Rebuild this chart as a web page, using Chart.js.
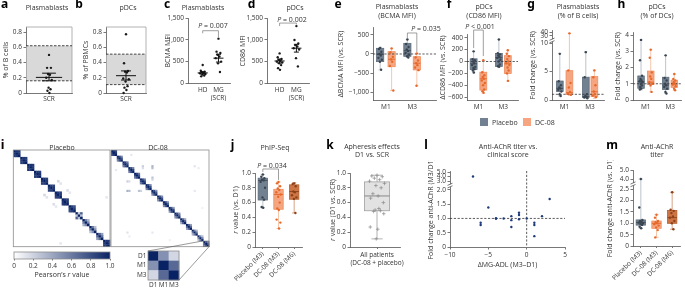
<!DOCTYPE html>
<html>
<head>
<meta charset="utf-8">
<title>DC-08 immune readouts</title>
<script src="https://cdn.jsdelivr.net/npm/chart.js@4.4.1/dist/chart.umd.min.js"></script>
<style>
  body { margin: 0; width: 685px; height: 288px; position: relative; overflow: hidden; background: #fff; font-family: 'Open Sans', sans-serif; color: #333; }
  canvas { position: absolute; }
  .tx { position: absolute; transform: translate(-50%, -50%); white-space: nowrap; font-size: 7px; line-height: 1; }
  .vt { position: absolute; transform: translate(-50%, -50%) rotate(-90deg); white-space: nowrap; font-size: 7px; line-height: 1; }
  .lt { position: absolute; transform: translate(-50%, -50%); font-family: 'Noto Sans', sans-serif; font-weight: 700; font-size: 12px; color: #000; line-height: 1; }
  .sw { position: absolute; width: 8px; height: 8px; }
  .lg { position: absolute; font-size: 7px; line-height: 1; transform: translateY(-50%); }
</style>
</head>
<body>
<script>
Chart.defaults.font.family = "'Open Sans', sans-serif";
Chart.defaults.font.size = 6.5;
Chart.defaults.color = '#333';

// ---------- data ----------
const visits = ['M1', 'M3'];
const groupsJM = ['Placebo (M3)', 'DC-08 (M3)', 'DC-08 (M6)'];

// a, b: frequency at screening, grey band = healthy donor range
const abTicks = [0, 0.2, 0.4, 0.6, 0.8];
const aSCR = [0.5, 0.33, 0.33, 0.25, 0.24, 0.2, 0.17, 0.07, 0.05, 0.03, 0.0];
const aMeanSem = [0.205, 0.16, 0.26];
const aRange = [0.16, 0.62];
const bSCR = [0.77, 0.39, 0.29, 0.28, 0.27, 0.19, 0.18, 0.15, 0.09, 0.07, 0.04, 0.0];
const bMeanSem = [0.227, 0.17, 0.29];
const bRange = [0.11, 0.51];

// c, d: MFI, healthy donors vs MG at screening
const cdTicks = [0, 500, 1000, 1500];
const cHD = [423, 290, 270, 260, 240, 230, 215, 200, 180, 160];
const cMG = [1030, 730, 700, 660, 620, 580, 500, 460, 260];
const cHDMeanSem = [240, 215, 265];
const cMGMeanSem = [580, 490, 670];
const dHD = [690, 600, 560, 540, 520, 500, 480, 460, 420, 350, 310];
const dMG = [1320, 1000, 920, 880, 850, 810, 780, 580, 390];
const dHDMeanSem = [515, 470, 560];
const dMGMeanSem = [810, 720, 900];

// box stats: [low whisker, q1, median, q3, high whisker]
const eTicks = [-1000, -500, 0, 500];
const ePlacM1 = [-413, -198, -10, 147, 173];
const eDC08M1 = [-950, -330, -137, 60, 147];
const ePlacM3 = [-90, -60, 86, 276, 380];
const eDC08M3 = [-827, -413, -240, -70, 17];
const ePlacM1Pts = [160, 130, 60, 0, -40, -100, -150, -200, -410];
const eDC08M1Pts = [145, 40, -80, -140, -200, -310, -950];
const ePlacM3Pts = [378, 260, 180, 120, 80, 30, -20, -60, -90];
const eDC08M3Pts = [15, -90, -170, -240, -290, -350, -420, -825];

const fTicks = [-600, -400, -200, 0, 200, 400];
const fPlacM1 = [-190, -136, -38, 45, 170];
const fDC08M1 = [-530, -480, -290, -180, 20];
const fPlacM3 = [-93, -82, 65, 136, 372];
const fDC08M3 = [-330, -200, -38, 98, 190];
const fPlacM1Pts = [170, 40, 20, 0, -30, -60, -90, -110, -130, -150, -185];
const fDC08M1Pts = [20, -180, -230, -260, -290, -320, -360, -400, -470, -500, -525];
const fPlacM3Pts = [370, 140, 120, 100, 80, 60, 30, 0, -50, -80, -90];
const fDC08M3Pts = [190, 130, 90, 40, 0, -30, -60, -100, -150, -200, -325];

const gTicks = [0, 5, 10, 30, 40];
const gPlacM1 = [0.7, 1.5, 2.05, 3.33, 8.2];
const gDC08M1 = [0.8, 1.0, 1.3, 5.15, 37];
const gPlacM3 = [0.3, 0.45, 0.6, 4.0, 8.5];
const gDC08M3 = [0.3, 0.6, 1.45, 4.1, 5.25];
const gPlacM1Pts = [8.1, 3.3, 2.6, 2.2, 2.0, 1.8, 1.5, 1.0, 0.7];
const gDC08M1Pts = [37, 5.2, 3.0, 2.2, 1.4, 1.1, 0.9];
const gPlacM3Pts = [8.4, 4.0, 1.0, 0.7, 0.55, 0.45, 0.3];
const gDC08M3Pts = [5.2, 4.0, 2.6, 1.5, 1.0, 0.8, 0.5];

const hTicks = [0, 1, 2, 3, 4];
const hPlacM1 = [0.62, 0.72, 1.13, 1.48, 3.7];
const hDC08M1 = [0.5, 0.95, 1.1, 1.78, 3.1];
const hPlacM3 = [0.4, 0.65, 0.92, 1.4, 2.75];
const hDC08M3 = [0.6, 0.78, 1.0, 1.22, 1.6];
const hPlacM1Pts = [3.7, 2.45, 1.5, 1.3, 1.2, 1.15, 1.1, 1.0, 0.9, 0.8, 0.7, 0.65];
const hDC08M1Pts = [3.1, 2.6, 1.7, 1.45, 1.3, 1.1, 1.0, 0.9, 0.5];
const hPlacM3Pts = [2.75, 1.35, 1.2, 1.0, 0.9, 0.8, 0.7, 0.5, 0.4];
const hDC08M3Pts = [1.6, 1.3, 1.2, 1.1, 1.0, 0.95, 0.85, 0.7, 0.6];

// i: within-patient Pearson r between D1, M1, M3 + sparse cross-patient cells [row, col, r]
const plD1M1 = [0.92, 0.9, 0.93, 0.9, 0.92, 0.88, 0.9, 0.9, 0.86, 0.25, 0.6, 0.62, 0.7, 0.9];
const plM1M3 = [0.9, 0.92, 0.9, 0.93, 0.9, 0.9, 0.88, 0.92, 0.88, 0.3, 0.55, 0.5, 0.65, 0.92];
const plD1M3 = [0.88, 0.87, 0.9, 0.88, 0.86, 0.85, 0.86, 0.88, 0.8, 0.72, 0.35, 0.3, 0.45, 0.88];
const plOff = [[13, 19, 0.18], [14, 20, 0.12], [17, 23, 0.15], [18, 24, 0.1], [20, 40, 0.1]];
const dcD1M1 = [0.9, 0.82, 0.85, 0.8, 0.85, 0.82, 0.86, 0.8, 0.78, 0.82, 0.75, 0.8, 0.7, 0.72, 0.6, 0.55, 0.75];
const dcM1M3 = [0.88, 0.8, 0.82, 0.84, 0.8, 0.85, 0.8, 0.78, 0.8, 0.76, 0.8, 0.72, 0.75, 0.68, 0.62, 0.6, 0.8];
const dcD1M3 = [0.8, 0.55, 0.6, 0.58, 0.62, 0.6, 0.55, 0.5, 0.52, 0.5, 0.45, 0.5, 0.4, 0.42, 0.35, 0.3, 0.55];
const dcOff = [[2, 10, 0.1], [8, 16, 0.22], [9, 16, 0.15], [8, 21, 0.35], [9, 21, 0.3], [14, 21, 0.28], [15, 21, 0.2], [8, 43, 0.12], [9, 45, 0.08], [21, 43, 0.1], [30, 47, 0.06]];
const insetLabels = ['D1', 'M1', 'M3'];
const insetR = [0.5, 0.68, 0.18]; // D1-M1, M1-M3, D1-M3
const cbTicks = [0, 0.2, 0.4, 0.6, 0.8, 1.0];

// j, k
const jTicks = [0, 0.2, 0.4, 0.6, 0.8, 1.0];
const jPlac = [0.53, 0.635, 0.9, 0.93, 0.98];
const jDC08M3 = [0.25, 0.51, 0.71, 0.78, 0.88];
const jDC08M6 = [0.46, 0.645, 0.75, 0.84, 0.87];
const jPlacPts = [0.98, 0.95, 0.93, 0.91, 0.9, 0.88, 0.8, 0.67, 0.64, 0.54, 0.53];
const jDC08M3Pts = [0.88, 0.86, 0.82, 0.79, 0.77, 0.74, 0.71, 0.68, 0.6, 0.52, 0.5, 0.37, 0.33, 0.25];
const jDC08M6Pts = [0.86, 0.85, 0.82, 0.75, 0.74, 0.7, 0.67, 0.65, 0.46];
const kAll = [0.11, 0.49, 0.69, 0.88, 0.97];
const kPts = [0.97, 0.96, 0.95, 0.93, 0.91, 0.89, 0.86, 0.83, 0.8, 0.72, 0.69, 0.66, 0.6, 0.52, 0.5, 0.49, 0.48, 0.45, 0.27, 0.24, 0.11];

// l: change in MG-ADL vs fold change titer
const lXTicks = [-10, -5, 0, 5];
const lYTicks = [0, 0.5, 1, 1.5, 2, 3, 4, 5];
const lADL = [-7, -5, 3, -6, -6, -4, -4, -3, -2, -2, -2, -1, -1, -1, 0, 1, 1, 1, 2];
const lFold = [4.0, 1.38, 1.68, 0.85, 0.77, 1.01, 0.99, 1.0, 1.08, 0.94, 0.7, 1.2, 1.12, 0.97, 1.0, 0.85, 0.77, 0.38, 1.08];

// m
const mTicks = [0, 0.5, 1, 1.5, 2, 2.5, 4, 5];
const mPlac = [0.78, 0.92, 1.04, 1.15, 4.0];
const mDC08M3 = [0.38, 0.78, 1.0, 1.1, 1.38];
const mDC08M6 = [0.74, 1.0, 1.25, 1.57, 2.37];
const mPlacPts = [4.0, 1.7, 1.15, 1.1, 1.06, 1.03, 1.0, 0.97, 0.93, 0.85, 0.78];
const mDC08M3Pts = [1.38, 1.25, 1.1, 1.05, 1.0, 0.96, 0.9, 0.82, 0.7, 0.38];
const mDC08M6Pts = [2.37, 1.6, 1.55, 1.45, 1.3, 1.25, 1.1, 1.0, 0.74];

// broken axes: values above the break are squeezed
const gT = v => v <= 10 ? v : 10 + (v - 10) * 0.063;
const lT = v => v <= 2 ? v : v <= 3 ? 2 + (v - 2) * 0.31 : 2.31 + (v - 3) * 0.155;
const mT = v => v <= 2.5 ? v : v <= 4 ? 2.5 + (v - 2.5) * 0.3 : 2.95 + (v - 4) * 0.4;

// ---------- styling ----------
const AX = '#555';
const TITLE = 7;
const PLAC = { fill: '#728191', edge: '#5d6c7c', wh: '#a9b4bf', med: '#3d4956', pt: '#3a4551' };
const DC08 = { fill: '#f5a680', edge: '#ef8d5e', wh: '#f4b796', med: '#e1672d', pt: '#e6692c' };
const DC08b = { fill: '#cd7544', edge: '#b5612f', wh: '#cf8b66', med: '#8c4119', pt: '#8c4119' };
const GREY = { fill: '#e2e2e2', edge: '#a0a0a0', wh: '#a0a0a0', med: '#7d7d7d', pt: '#8a8a8a' };
const NAVY = [9, 34, 100];

const fmtK = v => (v < 0 ? '\u2212' : '') + Math.abs(v).toLocaleString('en-US');
const fmt1 = v => v === 0 ? '0' : (v < 0 ? '\u2212' : '') + Math.abs(v).toFixed(1);
const heatRGB = v => {
  v = Math.max(0, Math.min(1, v));
  return 'rgb(' + NAVY.map(c => Math.round(255 + (c - 255) * v)).join(',') + ')';
};

function corrMatrix(d1m1, m1m3, d1m3, off) {
  const n = d1m1.length * 3;
  const M = Array.from({ length: n }, () => new Array(n).fill(0));
  for (let i = 0; i < n; i++) M[i][i] = 1;
  d1m1.forEach((v, p) => {
    const b = 3 * p;
    M[b][b + 1] = M[b + 1][b] = v;
    M[b + 1][b + 2] = M[b + 2][b + 1] = m1m3[p];
    M[b][b + 2] = M[b + 2][b] = d1m3[p];
  });
  off.forEach(([r, c, v]) => { M[r][c] = M[c][r] = v; });
  return M;
}

const JIT = [0, -0.7, 0.7, -0.35, 0.35, -1, 1, -0.15, 0.55, -0.55, 0.15, -0.85, 0.85, 0.25, -0.25, 0.45, -0.45, 0.9, -0.9, 0.1, -0.1];
function pts(cx, vals, spread, color, tf, extra) {
  return Object.assign({
    data: vals.map((v, i) => ({ x: cx + JIT[i % JIT.length] * spread, y: tf ? tf(v) : v })),
    pointRadius: 1.2, backgroundColor: color, borderColor: color, borderWidth: 0, clip: false
  }, extra || {});
}
const box = (x, w, stats, c, tf) => ({ x, w, s: tf ? stats.map(tf) : stats, c });

// ---------- drawing helpers (decorations drawn through the chart scales) ----------
const DECO = {};
Chart.register({
  id: 'deco',
  beforeDatasetsDraw(ch) {
    const d = DECO[ch.canvas.id]; if (!d) return;
    const { ctx, chartArea: A } = ch;
    const X = v => ch.scales.x.getPixelForValue(v), Y = v => ch.scales.y.getPixelForValue(v);
    ctx.save();
    if (d.band) {
      const y0 = Y(d.band[0]), y1 = Y(d.band[1]);
      ctx.fillStyle = '#d9d9d9';
      ctx.fillRect(A.left + 0.5, y1, A.right - A.left - 0.5, y0 - y1);
      ctx.strokeStyle = '#a0a0a0'; ctx.lineWidth = 0.8;
      ctx.beginPath(); ctx.moveTo(A.left, A.top); ctx.lineTo(A.right, A.top); ctx.lineTo(A.right, A.bottom); ctx.stroke();
      ctx.setLineDash([2.5, 1.5]); ctx.strokeStyle = '#333'; ctx.lineWidth = 0.9;
      [y0, y1].forEach(p => { ctx.beginPath(); ctx.moveTo(A.left, p); ctx.lineTo(A.right, p); ctx.stroke(); });
      ctx.setLineDash([]);
    }
    if (d.grad) {
      const gr = ctx.createLinearGradient(X(0), 0, X(1), 0);
      gr.addColorStop(0, heatRGB(0)); gr.addColorStop(1, heatRGB(1));
      ctx.fillStyle = gr; ctx.fillRect(X(0), A.top, X(1) - X(0), A.bottom - A.top);
    }
    if (d.heat) {
      const M = d.heat, n = M.length;
      for (let i = 0; i < n; i++) for (let j = 0; j < n; j++) {
        const v = M[i][j]; if (v <= 0) continue;
        const xa = X(j), xb = X(j + 1), ya = Y(i), yb = Y(i + 1);
        ctx.fillStyle = heatRGB(v);
        ctx.fillRect(Math.min(xa, xb), Math.min(ya, yb), Math.abs(xb - xa) + 0.3, Math.abs(yb - ya) + 0.3);
      }
    }
    (d.boxes || []).forEach(b => {
      const cx = X(b.x), hw = (X(b.x + b.w / 2) - X(b.x - b.w / 2)) / 2, cap = hw * 0.45;
      const [lo, q1, md, q3, hi] = b.s.map(Y);
      ctx.lineWidth = 0.8; ctx.strokeStyle = b.c.wh;
      ctx.beginPath();
      ctx.moveTo(cx, lo); ctx.lineTo(cx, q1); ctx.moveTo(cx, q3); ctx.lineTo(cx, hi);
      ctx.moveTo(cx - cap, lo); ctx.lineTo(cx + cap, lo); ctx.moveTo(cx - cap, hi); ctx.lineTo(cx + cap, hi);
      ctx.stroke();
      ctx.fillStyle = b.c.fill; ctx.fillRect(cx - hw, q3, 2 * hw, q1 - q3);
      ctx.strokeStyle = b.c.edge; ctx.strokeRect(cx - hw, q3, 2 * hw, q1 - q3);
      ctx.strokeStyle = b.c.med; ctx.lineWidth = 0.9;
      ctx.beginPath(); ctx.moveTo(cx - hw, md); ctx.lineTo(cx + hw, md); ctx.stroke();
    });
    (d.refs || []).forEach(r => {
      ctx.setLineDash([2.2, 1.6]); ctx.strokeStyle = '#333'; ctx.lineWidth = 0.8;
      ctx.beginPath();
      if (r.y !== undefined) { ctx.moveTo(A.left, Y(r.y)); ctx.lineTo(A.right, Y(r.y)); }
      else { ctx.moveTo(X(r.x), A.top); ctx.lineTo(X(r.x), A.bottom); }
      ctx.stroke(); ctx.setLineDash([]);
    });
    ctx.restore();
  },
  afterDatasetsDraw(ch) {
    const d = DECO[ch.canvas.id]; if (!d) return;
    const { ctx, chartArea: A } = ch;
    const X = v => ch.scales.x.getPixelForValue(v), Y = v => ch.scales.y.getPixelForValue(v);
    ctx.save();
    (d.means || []).forEach(m => {
      const cx = X(m.x), hw = X(m.x + m.hw) - cx, cw = X(m.x + m.cw) - cx;
      const [mu, lo, hi] = m.m.map(Y);
      ctx.strokeStyle = '#111'; ctx.lineWidth = 1;
      ctx.beginPath();
      ctx.moveTo(cx - hw, mu); ctx.lineTo(cx + hw, mu);
      ctx.moveTo(cx, lo); ctx.lineTo(cx, hi);
      ctx.moveTo(cx - cw, lo); ctx.lineTo(cx + cw, lo); ctx.moveTo(cx - cw, hi); ctx.lineTo(cx + cw, hi);
      ctx.stroke();
    });
    (d.brackets || []).forEach(b => {
      const x1 = X(b.x1), x2 = X(b.x2), yy = Y(b.v);
      ctx.strokeStyle = '#777'; ctx.lineWidth = 0.7;
      ctx.beginPath(); ctx.moveTo(x1, yy + b.l1); ctx.lineTo(x1, yy); ctx.lineTo(x2, yy); ctx.lineTo(x2, yy + b.l2); ctx.stroke();
    });
    (d.breaks || []).forEach(v => {
      const yy = Y(v), x0 = A.left;
      ctx.fillStyle = '#fff'; ctx.fillRect(x0 - 3, yy - 1.3, 6, 2.6);
      ctx.strokeStyle = AX; ctx.lineWidth = 0.8;
      ctx.beginPath();
      ctx.moveTo(x0 - 2.5, yy - 0.2); ctx.lineTo(x0 + 2.5, yy - 2.4);
      ctx.moveTo(x0 - 2.5, yy + 2.4); ctx.lineTo(x0 + 2.5, yy + 0.2);
      ctx.stroke();
    });
    if (d.frame) {
      ctx.strokeStyle = '#8c8c8c'; ctx.lineWidth = 0.8;
      ctx.strokeRect(A.left, A.top, A.right - A.left, A.bottom - A.top);
    }
    if (d.spot !== undefined) {
      const b = 3 * d.spot;
      ctx.strokeStyle = '#777'; ctx.lineWidth = 0.6;
      ctx.strokeRect(X(b), Y(b), X(b + 3) - X(b), Y(b + 3) - Y(b));
    }
    ctx.restore();
  }
});

// ---------- layout helpers ----------
let nCv = 0;
function geo(L, T, W, H, area, yw) {
  return { L, T, W, H, yw, pl: area[0] - L - yw, pt: area[1] - T, pr: L + W - area[2], xh: T + H - area[3] };
}
function xAx(g, s) {
  if (s.hide) return { type: 'linear', display: false, min: s.min, max: s.max };
  return {
    type: 'linear', position: 'bottom', min: s.min, max: s.max, bounds: 'data',
    afterBuildTicks: sc => { sc.ticks = s.vals.map(v => ({ value: v })); },
    ticks: { autoSkip: false, padding: s.pad ?? 2, maxRotation: s.rot || 0, minRotation: s.rot || 0, callback: (v, i) => s.labels[i] },
    grid: { display: true, drawOnChartArea: false, drawTicks: !!s.tick, tickLength: s.tick || 0, color: AX, lineWidth: 0.8 },
    border: { display: s.border !== false, color: AX, width: 0.8 },
    title: s.title ? { display: true, text: s.title, font: { size: TITLE }, padding: { top: 0, bottom: s.tpb || 0 } } : { display: false },
    afterFit: sc => { sc.height = g.xh; sc.paddingLeft = 0; sc.paddingRight = 0; }
  };
}
function yAx(g, s) {
  if (s.hide) return { type: 'linear', display: false, min: s.min, max: s.max, reverse: !!s.rev };
  return {
    type: 'linear', position: 'left', min: s.min, max: s.max, bounds: 'data', reverse: !!s.rev,
    afterBuildTicks: sc => { sc.ticks = s.vals.map(v => ({ value: v })); },
    ticks: { autoSkip: false, padding: s.pad ?? 1.5, callback: (v, i) => s.labels[i] },
    grid: { display: s.tick !== 0, drawOnChartArea: false, drawTicks: s.tick !== 0, tickLength: s.tick ?? 2.5, color: AX, lineWidth: 0.8 },
    border: { display: s.border !== false, color: AX, width: 0.8 },
    title: s.title ? { display: true, text: s.title, font: { size: TITLE }, padding: { top: Math.max(0, s.tx - g.L - g.pl - TITLE * 0.6), bottom: 0 } } : { display: false },
    afterFit: sc => { sc.width = g.yw; sc.paddingTop = 0; sc.paddingBottom = 0; }
  };
}
function mk(g, xs, ys, datasets, deco) {
  const cv = document.createElement('canvas');
  cv.id = 'cv' + (nCv++);
  cv.width = g.W; cv.height = g.H;
  cv.style.left = g.L + 'px'; cv.style.top = g.T + 'px';
  cv.style.width = g.W + 'px'; cv.style.height = g.H + 'px';
  document.body.appendChild(cv);
  DECO[cv.id] = deco || {};
  return new Chart(cv, {
    type: 'scatter',
    data: { datasets: datasets || [] },
    options: {
      responsive: false, animation: false, events: [],
      layout: { padding: { left: g.pl, top: g.pt, right: g.pr, bottom: xs.hide ? g.xh : 0 } },
      scales: { x: xAx(g, xs), y: yAx(g, ys) },
      plugins: { legend: { display: false }, tooltip: { enabled: false } }
    }
  });
}
function txt(x, y, html, cls) {
  const e = document.createElement('div');
  e.className = cls || 'tx'; e.innerHTML = html;
  e.style.left = x + 'px'; e.style.top = y + 'px';
  document.body.appendChild(e);
}

// ---------- a ----------
const gA = geo(0, 0, 76, 104, [26, 27, 73, 93], 26);
mk(gA, { min: -1, max: 1, vals: [0], labels: ['SCR'], pad: 2.2 },
  { min: 0, max: 0.866, vals: abTicks, labels: abTicks.map(fmt1), title: '% of B cells', tx: 6 },
  [pts(0, aSCR, 0.12, '#1a1a1a')],
  { band: aRange, means: [{ x: 0, m: aMeanSem, hw: 0.57, cw: 0.3 }] });

// ---------- b ----------
const gB = geo(80, 0, 70, 104, [106, 27, 148, 93], 26);
mk(gB, { min: -1, max: 1, vals: [0], labels: ['SCR'], pad: 2.2 },
  { min: 0, max: 0.866, vals: abTicks, labels: abTicks.map(fmt1), title: '% of PBMCs', tx: 86 },
  [pts(0, bSCR, 0.14, '#1a1a1a')],
  { band: bRange, means: [{ x: 0, m: bMeanSem, hw: 0.5, cw: 0.25 }] });

// ---------- c ----------
const gC = geo(162, 0, 72, 101, [188, 18.3, 230, 83.3], 26);
mk(gC, { min: 0, max: 2, vals: [0.7, 1.45], labels: ['HD', ['MG', '(SCR)']], pad: 2.8 },
  { min: 0, max: 1500, vals: cdTicks, labels: cdTicks.map(fmtK), title: 'BCMA MFI', tx: 168 },
  [pts(0.7, cHD, 0.13, '#1a1a1a'), pts(1.45, cMG, 0.13, '#1a1a1a')],
  { means: [{ x: 0.7, m: cHDMeanSem, hw: 0.24, cw: 0.12 }, { x: 1.45, m: cMGMeanSem, hw: 0.24, cw: 0.12 }],
    brackets: [{ x1: 0.7, x2: 1.45, v: 1214, l1: 2.6, l2: 6.3 }] });

// ---------- d ----------
const gD = geo(238, 0, 75, 101, [267, 18.3, 311, 83.3], 29);
mk(gD, { min: 0, max: 2, vals: [0.6, 1.4], labels: ['HD', ['MG', '(SCR)']], pad: 2.8 },
  { min: 0, max: 1500, vals: cdTicks, labels: cdTicks.map(fmtK), title: 'CD86 MFI', tx: 242.5 },
  [pts(0.6, dHD, 0.13, '#1a1a1a'), pts(1.4, dMG, 0.13, '#1a1a1a')],
  { means: [{ x: 0.6, m: dHDMeanSem, hw: 0.24, cw: 0.12 }, { x: 1.4, m: dMGMeanSem, hw: 0.24, cw: 0.12 }],
    brackets: [{ x1: 0.6, x2: 1.4, v: 1390, l1: 3, l2: 1.5 }] });

// ---------- e ----------
const gE = geo(335, 0, 105, 112, [373, 27.8, 438, 100.2], 38);
mk(gE, { min: 0, max: 2.2, vals: [0.45, 1.37], labels: visits, pad: 3 },
  { min: -1200, max: 680, vals: eTicks, labels: eTicks.map(fmtK), title: '\u0394BCMA MFI (vs. SCR)', tx: 341 },
  [pts(0.25, ePlacM1Pts, 0.06, PLAC.pt), pts(0.65, eDC08M1Pts, 0.06, DC08.pt),
   pts(1.2, ePlacM3Pts, 0.06, PLAC.pt), pts(1.53, eDC08M3Pts, 0.06, DC08.pt)],
  { boxes: [box(0.25, 0.25, ePlacM1, PLAC), box(0.65, 0.25, eDC08M1, DC08), box(1.2, 0.25, ePlacM3, PLAC), box(1.53, 0.25, eDC08M3, DC08)],
    refs: [{ y: 0 }], brackets: [{ x1: 1.2, x2: 1.53, v: 545, l1: 5, l2: 19 }] });

// ---------- f ----------
const gF = geo(438, 0, 84, 112, [467, 34.7, 520, 100.2], 29);
mk(gF, { min: 0, max: 2, vals: [0.45, 1.42], labels: visits, pad: 3 },
  { min: -650, max: 450, vals: fTicks, labels: fTicks.map(fmtK), title: '\u0394CD86 MFI (vs. SCR)', tx: 443 },
  [pts(0.26, fPlacM1Pts, 0.06, PLAC.pt), pts(0.64, fDC08M1Pts, 0.06, DC08.pt),
   pts(1.25, fPlacM3Pts, 0.06, PLAC.pt), pts(1.6, fDC08M3Pts, 0.06, DC08.pt)],
  { boxes: [box(0.26, 0.27, fPlacM1, PLAC), box(0.64, 0.27, fDC08M1, DC08), box(1.25, 0.27, fPlacM3, PLAC), box(1.6, 0.27, fDC08M3, DC08)],
    refs: [{ y: 0 }], brackets: [{ x1: 0.26, x2: 0.64, v: 528, l1: 18, l2: 26 }] });

// ---------- g ----------
const gG = geo(527, 0, 81, 112, [552, 30.5, 606, 100], 25);
mk(gG, { min: 0, max: 2, vals: [0.48, 1.46], labels: visits, pad: 3 },
  { min: 0, max: 12.2, vals: gTicks.map(gT), labels: gTicks.map(String), title: 'Fold change (vs. SCR)', tx: 533 },
  [pts(0.3, gPlacM1Pts, 0.06, PLAC.pt, gT), pts(0.67, gDC08M1Pts, 0.06, DC08.pt, gT),
   pts(1.3, gPlacM3Pts, 0.06, PLAC.pt, gT), pts(1.63, gDC08M3Pts, 0.06, DC08.pt, gT)],
  { boxes: [box(0.3, 0.26, gPlacM1, PLAC, gT), box(0.67, 0.26, gDC08M1, DC08, gT), box(1.3, 0.26, gPlacM3, PLAC, gT), box(1.63, 0.26, gDC08M3, DC08, gT)],
    refs: [{ y: gT(1) }], breaks: [10.45] });

// ---------- h ----------
const gH = geo(612, 0, 73, 112, [633, 32.6, 685, 100], 21);
mk(gH, { min: 0, max: 2, vals: [0.53, 1.55], labels: visits, pad: 3 },
  { min: 0, max: 4.15, vals: hTicks, labels: hTicks.map(String), title: 'Fold change (vs. SCR)', tx: 618 },
  [pts(0.335, hPlacM1Pts, 0.06, PLAC.pt), pts(0.74, hDC08M1Pts, 0.06, DC08.pt),
   pts(1.36, hPlacM3Pts, 0.06, PLAC.pt), pts(1.72, hDC08M3Pts, 0.06, DC08.pt)],
  { boxes: [box(0.335, 0.27, hPlacM1, PLAC), box(0.74, 0.27, hDC08M1, DC08), box(1.36, 0.27, hPlacM3, PLAC), box(1.72, 0.27, hDC08M3, DC08)],
    refs: [{ y: 1 }] });

// ---------- i ----------
const plM = corrMatrix(plD1M1, plM1M3, plD1M3, plOff);
const dcM = corrMatrix(dcD1M1, dcM1M3, dcD1M3, dcOff);
const gHP = geo(12, 149, 100, 99, [13.3, 150, 110, 246.7], 0);
mk(gHP, { hide: true, min: 0, max: plM.length }, { hide: true, min: 0, max: plM.length, rev: true }, [], { heat: plM, frame: true });
const gHD = geo(110, 149, 101, 99, [111, 150, 209, 246.7], 0);
mk(gHD, { hide: true, min: 0, max: dcM.length }, { hide: true, min: 0, max: dcM.length, rev: true }, [],
  { heat: dcM, frame: true, spot: dcD1M1.length - 1 });
const gCB = geo(8, 249, 108, 31, [14, 252, 110, 259], 0);
mk(gCB, { min: 0, max: 1, vals: cbTicks, labels: cbTicks.map(fmt1), pad: 1.5, tick: 1.5, border: false },
  { hide: true, min: 0, max: 1 }, [], { grad: true, frame: true });
const insetM = corrMatrix([insetR[0]], [insetR[1]], [insetR[2]], []);
const gIn = geo(136, 248, 46, 40, [148, 251, 179, 280], 12);
mk(gIn, { min: 0, max: 3, vals: [0.5, 1.5, 2.5], labels: insetLabels, pad: 1, border: false },
  { min: 0, max: 3, rev: true, vals: [0.5, 1.5, 2.5], labels: insetLabels, pad: 1.5, tick: 0, border: false },
  [], { heat: insetM, frame: true });

// ---------- j ----------
const gJ = geo(228, 160, 78, 128, [255, 173, 303, 247], 27);
mk(gJ, { min: 0, max: 3, vals: [0.5, 1.5, 2.5], labels: groupsJM, rot: 45, tick: 2, pad: 1 },
  { min: 0, max: 1, vals: jTicks, labels: jTicks.map(fmt1) },
  [pts(0.5, jPlacPts, 0.14, PLAC.pt), pts(1.5, jDC08M3Pts, 0.14, DC08.pt), pts(2.5, jDC08M6Pts, 0.14, DC08b.pt)],
  { boxes: [box(0.5, 0.6, jPlac, PLAC), box(1.5, 0.6, jDC08M3, DC08), box(2.5, 0.6, jDC08M6, DC08b)],
    brackets: [{ x1: 0.5, x2: 1.5, v: 1.054, l1: 3, l2: 11 }] });

// ---------- k ----------
const gK = geo(325, 160, 84, 110, [350, 173, 400, 247], 25);
mk(gK, { min: 0, max: 2, vals: [1.08], labels: [['All patients', '(DC-08 + placebo)']], tick: 2, pad: 2.5 },
  { min: 0, max: 1, vals: jTicks, labels: jTicks.map(fmt1) },
  [pts(1.08, kPts, 0.3, GREY.pt, null, { pointStyle: 'cross', pointRadius: 1.8, borderWidth: 0.7 })],
  { boxes: [box(1.08, 1.0, kAll, GREY)] });

// ---------- l ----------
const gL = geo(425, 160, 145, 111, [450, 171, 565, 247], 25);
mk(gL, { min: -10, max: 5, vals: lXTicks, labels: lXTicks.map(fmtK), tick: 2.5, pad: 1.5, title: '\u0394MG-ADL (M3\u2013D1)', tpb: 1.5 },
  { min: 0, max: 2.66, vals: lYTicks.map(lT), labels: lYTicks.map(fmt1), title: 'Fold change anti-AChR (M3/D1)', tx: 431 },
  [{ data: lADL.map((v, i) => ({ x: v, y: lT(lFold[i]) })), pointRadius: 1.2, backgroundColor: '#1f3a7a', borderWidth: 0, clip: false }],
  { refs: [{ y: 1 }, { x: 0 }], breaks: [2.15] });

// ---------- m ----------
const gM = geo(605, 160, 80, 127, [633, 170, 680, 246], 28);
mk(gM, { min: 0, max: 3, vals: [0.5, 1.5, 2.5], labels: groupsJM, rot: 45, tick: 2, pad: 1 },
  { min: 0, max: 3.35, vals: mTicks.map(mT), labels: mTicks.map(fmt1), title: 'Fold change anti-AChR (vs. D1)', tx: 610 },
  [pts(0.5, mPlacPts, 0.14, PLAC.pt, mT), pts(1.5, mDC08M3Pts, 0.14, DC08.pt, mT), pts(2.5, mDC08M6Pts, 0.14, DC08b.pt, mT)],
  { boxes: [box(0.5, 0.6, mPlac, PLAC, mT), box(1.5, 0.6, mDC08M3, DC08, mT), box(2.5, 0.6, mDC08M6, DC08b, mT)],
    breaks: [2.72] });

// ---------- text ----------
[['a', 4.5, 4], ['b', 79, 4], ['c', 167, 4], ['d', 251.5, 4], ['e', 338, 4], ['f', 449, 4], ['g', 531, 4], ['h', 621.5, 4],
 ['i', 2.5, 145], ['j', 232.5, 145], ['k', 330, 145], ['l', 426, 145], ['m', 612, 145]].forEach(([s, x, y]) => txt(x, y, s, 'lt'));

txt(47, 6.5, 'Plasmablasts'); txt(128, 6.5, 'pDCs'); txt(203, 6.5, 'Plasmablasts'); txt(295, 6.5, 'pDCs');
txt(397, 5.5, 'Plasmablasts'); txt(397, 15, '(BCMA MFI)');
txt(484, 5.5, 'pDCs'); txt(484, 15, '(CD86 MFI)');
txt(578, 5.5, 'Plasmablasts'); txt(578, 15, '(% of B cells)');
txt(657, 5.5, 'pDCs'); txt(657, 15, '(% of DCs)');
txt(213, 25, '<i>P</i> = 0.007'); txt(292, 18.8, '<i>P</i> = 0.002');
txt(426, 28.3, '<i>P</i> = 0.035'); txt(480, 25.5, '<i>P</i> &lt; 0.001');
txt(62, 146.5, 'Placebo'); txt(158, 146.5, 'DC-08'); txt(62, 274, 'Pearson\u2019s <i>r</i> value');
txt(275, 146.5, 'PhIP-Seq'); txt(272, 164.5, '<i>P</i> = 0.034');
txt(372, 146, 'Apheresis effects'); txt(372, 153.5, 'D1 vs. SCR');
txt(508, 145.5, 'Anti-AChR titer vs.'); txt(508, 153.5, 'clinical score');
txt(657, 145.5, 'Anti-AChR'); txt(657, 154, 'titer');
txt(235, 210, '<i>r</i> value (vs. D1)', 'vt');
txt(332, 210, '<i>r</i> value (D1 vs. SCR)', 'vt');

// legend
document.body.insertAdjacentHTML('beforeend',
  '<div class="sw" style="left:480px;top:118px;background:' + PLAC.fill + '"></div><div class="lg" style="left:492px;top:122px">Placebo</div>' +
  '<div class="sw" style="left:523px;top:118px;background:' + DC08.fill + '"></div><div class="lg" style="left:535px;top:122px">DC-08</div>' +
  '<svg style="position:absolute;left:0;top:0" width="685" height="288"><g stroke="#555" stroke-width="0.6">' +
  '<line x1="148" y1="251" x2="202.5" y2="241"/><line x1="179" y1="280" x2="209" y2="246.7"/></g></svg>');
</script>
</body>
</html>
